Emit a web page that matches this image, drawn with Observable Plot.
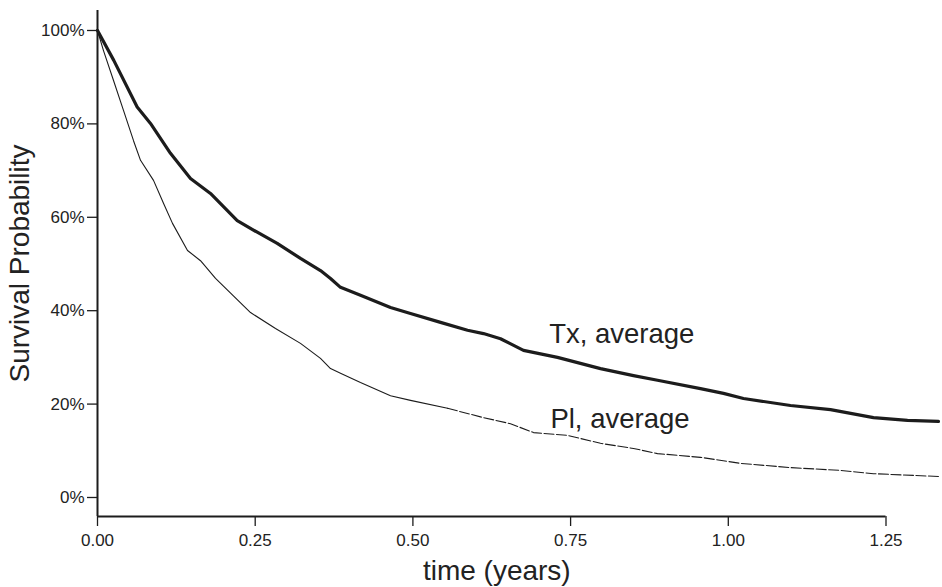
<!DOCTYPE html>
<html>
<head>
<meta charset="utf-8">
<script src="https://cdn.jsdelivr.net/npm/d3@7"></script>
<script src="https://cdn.jsdelivr.net/npm/@observablehq/plot@0.6"></script>
<style>
  html, body { margin: 0; padding: 0; background: #fff; }
  #chart svg { display: block; }
</style>
</head>
<body>
<div id="chart"></div>
<script>
// Tx, average (thick curve): time in years, survival probability
const txTime = [0, 0.0258, 0.0629, 0.084, 0.1157, 0.1474, 0.1791, 0.2215, 0.2532, 0.2849, 0.3218, 0.3535, 0.3694, 0.3852, 0.4169, 0.4645, 0.4962, 0.5438, 0.5866, 0.6119, 0.6389, 0.6753, 0.7292, 0.7974, 0.8497, 0.8878, 0.9559, 0.9924, 1.0241, 1.0986, 1.162, 1.2302, 1.2841, 1.3332];
const txSurv = [1.0, 0.936, 0.836, 0.801, 0.737, 0.683, 0.651, 0.593, 0.568, 0.544, 0.512, 0.486, 0.469, 0.450, 0.433, 0.407, 0.394, 0.375, 0.358, 0.351, 0.340, 0.315, 0.300, 0.276, 0.261, 0.251, 0.233, 0.223, 0.212, 0.197, 0.188, 0.171, 0.165, 0.163];

// Pl, average (thin curve)
const plTime = [0, 0.0095, 0.0254, 0.0412, 0.0571, 0.0682, 0.0888, 0.1046, 0.1189, 0.1427, 0.1633, 0.1871, 0.2426, 0.2822, 0.3218, 0.3535, 0.3694, 0.3852, 0.4169, 0.4645, 0.4962, 0.5549, 0.6119, 0.6547, 0.6912, 0.7451, 0.7974, 0.8497, 0.8878, 0.9559, 1.0193, 1.0986, 1.1779, 1.2302, 1.3332];
const plSurv = [1.0, 0.957, 0.893, 0.829, 0.764, 0.722, 0.679, 0.630, 0.587, 0.529, 0.507, 0.469, 0.396, 0.362, 0.330, 0.298, 0.276, 0.266, 0.246, 0.218, 0.208, 0.191, 0.171, 0.158, 0.139, 0.133, 0.116, 0.105, 0.094, 0.086, 0.073, 0.064, 0.058, 0.051, 0.045];

// Axis tick values
const xTicks = [0, 0.25, 0.5, 0.75, 1.0, 1.25];
const yTicks = [0, 0.2, 0.4, 0.6, 0.8, 1.0];

// Curve labels
const labels = ["Tx, average", "Pl, average"];
const labelX = [0.716, 0.718];
const labelY = [0.330, 0.148];

const xDomain = [0, 1.25];
const yDomain = [-0.0407, 1.0428];
const xTitleAt = 0.633;
const plDashFrom = 0.55;

const tx = txTime.map((t, i) => ({t, s: txSurv[i]}));
const pl = plTime.map((t, i) => ({t, s: plSurv[i]}));
const plHead = pl.filter(d => d.t <= plDashFrom + 0.01);
const plTail = pl.filter(d => d.t >= plDashFrom);
const lab = labels.map((text, i) => ({text, x: labelX[i], y: labelY[i]}));

const ink = "#1c1c1c";
const font = "'Liberation Sans', Arial, Helvetica, sans-serif";

const chart = Plot.plot({
  width: 942,
  height: 587,
  marginLeft: 97,
  marginRight: 56.5,
  marginTop: 10,
  marginBottom: 71,
  style: {fontFamily: font, background: "#fff", color: ink},
  x: {domain: xDomain, ticks: xTicks},
  y: {domain: yDomain, ticks: yTicks},
  marks: [
    Plot.axisX({ticks: xTicks, tickFormat: d3.format(".2f"), tickSize: 10, tickPadding: 7, fontSize: 17, label: null, stroke: ink, strokeWidth: 1.3, color: "#222"}),
    Plot.axisY({ticks: yTicks, tickFormat: d3.format(".0%"), tickSize: 10, tickPadding: 3, fontSize: 17, label: null, stroke: ink, strokeWidth: 1.3, color: "#222"}),
    Plot.ruleX([0], {stroke: ink, strokeWidth: 2}),
    Plot.ruleY([yDomain[0]], {stroke: ink, strokeWidth: 2}),
    Plot.line(plHead, {x: "t", y: "s", stroke: ink, strokeWidth: 1.1}),
    Plot.line(plTail, {x: "t", y: "s", stroke: ink, strokeWidth: 1.1, strokeDasharray: "10,2.5"}),
    Plot.line(tx, {x: "t", y: "s", stroke: ink, strokeWidth: 3.2}),
    Plot.text(lab, {x: "x", y: "y", text: "text", textAnchor: "start", lineAnchor: "bottom", fontSize: 27.5, fill: "#222"}),
    Plot.text(["time (years)"], {x: () => xTitleAt, frameAnchor: "bottom", dy: 63, lineAnchor: "bottom", textAnchor: "middle", fontSize: 28, fill: "#222"}),
    Plot.text(["Survival Probability"], {frameAnchor: "left", dx: -77, rotate: -90, textAnchor: "middle", fontSize: 28, fill: "#222"})
  ]
});
document.getElementById("chart").appendChild(chart);
</script>
</body>
</html>
